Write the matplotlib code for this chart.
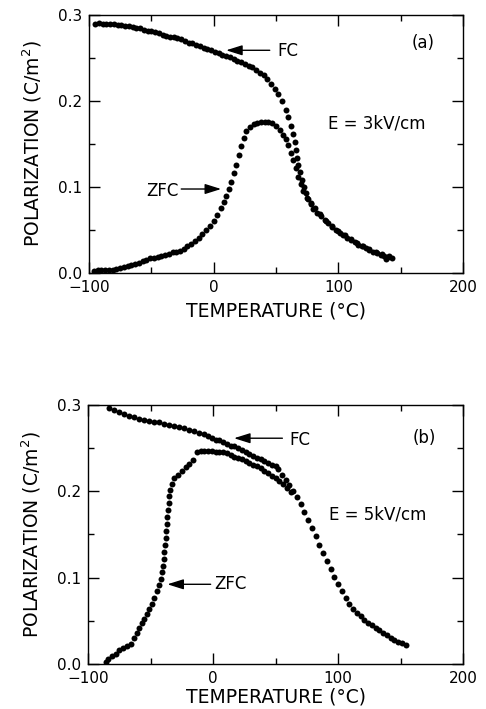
import matplotlib
matplotlib.use("Agg")
import matplotlib.pyplot as plt
from matplotlib.ticker import MultipleLocator, FormatStrFormatter

# panel (a), E = 3 kV/cm
t_fc_a = [-95, -92, -89, -86, -83, -80, -77, -74, -71, -68, -65, -62, -59, -56, -53,
          -50, -47, -44, -41, -38, -35, -32, -29, -26, -23, -20, -17, -14, -11, -8,
          -5, -2, 1, 4, 7, 10, 13, 16, 19, 22, 25, 28, 31, 34, 37, 40, 43, 46, 49,
          52, 55, 58, 60, 62, 63.5, 65, 66, 67, 68, 69.5, 71, 72.5, 74, 76, 78, 80,
          83, 86, 89, 92, 95, 98, 101, 104, 107, 110, 113, 116, 119, 122, 125, 128,
          131, 134, 137, 140, 143]
p_fc_a = [0.290, 0.291, 0.290, 0.289, 0.290, 0.289, 0.288, 0.288, 0.287, 0.287, 0.286,
          0.285, 0.285, 0.283, 0.282, 0.281, 0.280, 0.279, 0.277, 0.276, 0.275, 0.274,
          0.273, 0.272, 0.270, 0.268, 0.267, 0.265, 0.264, 0.262, 0.261, 0.259, 0.257,
          0.256, 0.254, 0.252, 0.251, 0.249, 0.247, 0.245, 0.243, 0.241, 0.239, 0.236,
          0.233, 0.230, 0.226, 0.220, 0.214, 0.208, 0.200, 0.190, 0.181, 0.171, 0.162,
          0.152, 0.143, 0.134, 0.126, 0.117, 0.108, 0.100, 0.093, 0.086, 0.080, 0.075,
          0.070, 0.066, 0.062, 0.058, 0.054, 0.050, 0.047, 0.044, 0.041, 0.038, 0.036,
          0.033, 0.031, 0.029, 0.027, 0.025, 0.023, 0.021, 0.020, 0.019, 0.018]

t_zfc_a = [-96, -93, -90, -87, -84, -81, -78, -75, -72, -69, -66, -63, -60, -57, -54,
           -51, -48, -45, -42, -39, -36, -33, -30, -27, -24, -21, -18, -15, -12, -9,
           -6, -3, 0, 3, 6, 8, 10, 12, 14, 16, 18, 20, 22, 24, 26, 29, 32, 35, 38, 41,
           44, 47, 50, 53, 56, 58, 60, 62, 64, 66, 68, 70, 72, 75, 78, 81, 85, 90, 95,
           100, 105, 110, 115, 120, 125, 130, 135, 138, 141]
p_zfc_a = [0.002, 0.003, 0.003, 0.004, 0.004, 0.004, 0.005, 0.006, 0.007, 0.008, 0.009,
           0.011, 0.012, 0.014, 0.015, 0.017, 0.018, 0.019, 0.020, 0.021, 0.022, 0.024,
           0.025, 0.026, 0.028, 0.031, 0.034, 0.037, 0.041, 0.045, 0.050, 0.055, 0.060,
           0.067, 0.076, 0.083, 0.090, 0.098, 0.106, 0.116, 0.126, 0.137, 0.148, 0.157,
           0.165, 0.170, 0.173, 0.175, 0.176, 0.176, 0.176, 0.174, 0.171, 0.166, 0.161,
           0.156, 0.149, 0.140, 0.131, 0.122, 0.112, 0.103, 0.095, 0.087, 0.081, 0.076,
           0.069, 0.061, 0.055, 0.049, 0.044, 0.040, 0.035, 0.031, 0.028, 0.025, 0.022,
           0.016, 0.020]

# panel (b), E = 5 kV/cm
t_fc_b = [-83, -79, -75, -71, -67, -63, -59, -55, -51, -47, -43, -39, -35, -31, -27,
          -23, -19, -15, -11, -7, -4, -1, 2, 5, 8, 11, 14, 17, 20, 23, 26, 29, 32, 35,
          38, 41, 44, 47, 50, 52, 55, 58, 61, 64, 67, 70, 73, 76, 79, 82, 85, 88, 91,
          94, 97, 100, 103, 106, 109, 112, 115, 118, 121, 124, 127, 130, 133, 136,
          139, 142, 145, 148, 151, 154]
p_fc_b = [0.297, 0.294, 0.292, 0.289, 0.287, 0.286, 0.284, 0.283, 0.281, 0.280, 0.280,
          0.278, 0.277, 0.276, 0.275, 0.273, 0.271, 0.270, 0.268, 0.266, 0.264, 0.262,
          0.260, 0.259, 0.257, 0.255, 0.253, 0.252, 0.250, 0.248, 0.246, 0.243, 0.241,
          0.239, 0.237, 0.235, 0.233, 0.231, 0.229, 0.226, 0.219, 0.213, 0.207, 0.200,
          0.193, 0.185, 0.176, 0.167, 0.158, 0.148, 0.138, 0.128, 0.119, 0.110, 0.101,
          0.093, 0.085, 0.077, 0.070, 0.064, 0.059, 0.055, 0.051, 0.048, 0.045, 0.042,
          0.039, 0.036, 0.033, 0.030, 0.028, 0.026, 0.024, 0.022]

t_zfc_b = [-86, -84, -81, -78, -75, -72, -69, -66, -63, -61, -59, -57, -55, -53, -51,
           -49, -47, -45, -43, -42, -41, -40, -39.5, -39, -38.5, -38, -37.5, -37,
           -36.5, -36, -35.5, -35, -34.5, -33, -31, -28, -25, -22, -19, -16, -13, -10,
           -7, -4, -1, 2, 5, 8, 11, 14, 17, 20, 23, 26, 29, 32, 35, 38, 41, 44, 47, 50,
           53, 56, 59, 62]
p_zfc_b = [0.002, 0.006, 0.009, 0.011, 0.016, 0.019, 0.021, 0.023, 0.030, 0.036, 0.042,
           0.047, 0.052, 0.058, 0.064, 0.070, 0.076, 0.084, 0.091, 0.098, 0.106, 0.114,
           0.122, 0.130, 0.138, 0.146, 0.154, 0.162, 0.170, 0.178, 0.186, 0.194, 0.202,
           0.209, 0.215, 0.219, 0.224, 0.228, 0.232, 0.236, 0.246, 0.247, 0.247, 0.247,
           0.247, 0.246, 0.246, 0.245, 0.244, 0.242, 0.240, 0.239, 0.237, 0.235, 0.233,
           0.231, 0.229, 0.227, 0.224, 0.221, 0.218, 0.215, 0.212, 0.208, 0.204, 0.199]

plt.rcParams['font.family'] = 'DejaVu Sans'

fig = plt.figure(figsize=(4.86, 7.09), dpi=100)
ax_a = fig.add_axes([0.1831, 0.6149, 0.7695, 0.3639])
ax_b = fig.add_axes([0.1811, 0.0635, 0.7716, 0.3653])

arrow = dict(arrowstyle='-|>,head_length=0.7,head_width=0.22', color='black',
             lw=1.0, mutation_scale=14, shrinkA=0, shrinkB=0)


def style_axes(ax, xpad):
    ax.set_xlim(-100, 200)
    ax.set_ylim(0, 0.3)
    ax.xaxis.set_major_locator(MultipleLocator(100))
    ax.xaxis.set_minor_locator(MultipleLocator(50))
    ax.yaxis.set_major_locator(MultipleLocator(0.1))
    ax.yaxis.set_minor_locator(MultipleLocator(0.05))
    ax.yaxis.set_major_formatter(FormatStrFormatter('%.1f'))
    ax.tick_params(which='both', direction='in', top=True, right=True, width=1.0,
                   labelsize=11, pad=5)
    ax.tick_params(which='major', length=8)
    ax.tick_params(which='minor', length=4.5)
    for s in ax.spines.values():
        s.set_linewidth(1.0)
    ax.set_xlabel('TEMPERATURE (°C)', fontsize=13.5, labelpad=xpad)
    ax.set_ylabel('POLARIZATION (C/m$^2$)', fontsize=13.5, labelpad=10)


ms = 4.3

style_axes(ax_a, 5)
ax_a.plot(t_fc_a, p_fc_a, 'o', color='black', ms=ms, mew=0)
ax_a.plot(t_zfc_a, p_zfc_a, 'o', color='black', ms=ms, mew=0)
ax_a.annotate('', xy=(10, 0.259), xytext=(45, 0.259), arrowprops=arrow)
ax_a.text(51.5, 0.258, 'FC', fontsize=12, va='center', ha='left')
ax_a.annotate('', xy=(6, 0.0977), xytext=(-26, 0.0977), arrowprops=arrow)
ax_a.text(-28, 0.0957, 'ZFC', fontsize=12, va='center', ha='right')
ax_a.text(168, 0.2676, '(a)', fontsize=12, va='center', ha='center')
ax_a.text(91.5, 0.174, 'E = 3kV/cm', fontsize=12, va='center', ha='left')

style_axes(ax_b, 1)
ax_b.plot(t_fc_b, p_fc_b, 'o', color='black', ms=ms, mew=0)
ax_b.plot(t_zfc_b, p_zfc_b, 'o', color='black', ms=ms, mew=0)
ax_b.annotate('', xy=(16.8, 0.2615), xytext=(55.5, 0.2615), arrowprops=arrow)
ax_b.text(60.8, 0.26, 'FC', fontsize=12, va='center', ha='left')
ax_b.annotate('', xy=(-36.5, 0.0923), xytext=(-1.9, 0.0923), arrowprops=arrow)
ax_b.text(0.8, 0.0923, 'ZFC', fontsize=12, va='center', ha='left')
ax_b.text(169, 0.2615, '(b)', fontsize=12, va='center', ha='center')
ax_b.text(92.8, 0.173, 'E = 5kV/cm', fontsize=12, va='center', ha='left')

fig.savefig('out.png', dpi=100)
